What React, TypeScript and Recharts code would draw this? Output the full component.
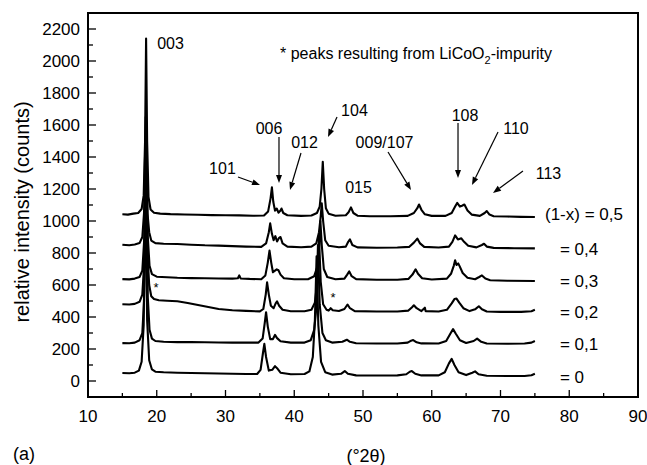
import React from "react";
import {
  LineChart,
  Line,
  XAxis,
  YAxis,
  ReferenceArea,
  ReferenceDot,
  ReferenceLine,
} from "recharts";

// XRD patterns, [2theta, counts]
const trace05: [number, number][] = [
  [15, 1042], [15.8, 1040], [16.6, 1046], [17.3, 1050], [17.8, 1075], [18.1, 1160], [18.3, 1500], [18.45, 2140],
  [18.6, 1500], [18.8, 1150], [19.1, 1072], [19.6, 1052], [20.5, 1046], [22, 1043], [24, 1041], [26, 1039],
  [28, 1037], [30, 1036], [32, 1035], [34, 1033], [35.6, 1034], [36.2, 1060], [36.55, 1140], [36.75, 1210],
  [36.95, 1120], [37.2, 1065], [37.45, 1078], [37.7, 1052], [38.0, 1065], [38.15, 1078], [38.4, 1050], [39, 1036],
  [41, 1032], [42.5, 1034], [43.3, 1050], [43.7, 1090], [43.95, 1200], [44.15, 1370], [44.35, 1200], [44.6, 1080],
  [45.0, 1046], [46, 1033], [47.5, 1036], [47.9, 1055], [48.25, 1085], [48.6, 1050], [49.2, 1033], [51, 1030],
  [54, 1030], [56.5, 1032], [57.4, 1050], [57.9, 1080], [58.15, 1103], [58.5, 1070], [59.0, 1042], [60, 1032],
  [62, 1032], [62.9, 1050], [63.4, 1090], [63.7, 1113], [64.1, 1090], [64.4, 1095], [64.75, 1103], [65.2, 1065],
  [65.8, 1040], [67, 1032], [67.7, 1050], [68.0, 1062], [68.4, 1040], [69, 1030], [71, 1028], [73, 1026], [75, 1025],
];

const trace04: [number, number][] = [
  [15, 852], [16, 848], [16.8, 853], [17.5, 862], [17.9, 900], [18.15, 1050], [18.4, 1650], [18.65, 1050],
  [18.9, 930], [19.2, 878], [19.8, 862], [21, 858], [23, 856], [25, 852], [27, 848], [29, 846], [31, 843],
  [33, 840], [35.2, 838], [35.9, 860], [36.3, 930], [36.5, 985], [36.75, 920], [37.0, 880], [37.25, 905],
  [37.5, 872], [37.8, 895], [38.0, 900], [38.3, 860], [39, 840], [41, 836], [42.5, 840], [43.2, 860],
  [43.6, 930], [43.85, 1030], [44.0, 1110], [44.2, 1000], [44.5, 880], [45, 845], [46.5, 836], [47.5, 840],
  [47.85, 870], [48.1, 885], [48.45, 850], [49.2, 835], [52, 833], [55, 834], [56.7, 838], [57.4, 865],
  [57.9, 890], [58.3, 860], [58.9, 838], [61, 834], [62.5, 840], [63.0, 870], [63.4, 910], [63.8, 885],
  [64.3, 892], [64.7, 870], [65.3, 845], [66.5, 835], [67.3, 850], [67.6, 858], [68.0, 840], [69, 832],
  [72, 830], [75, 829],
];

const trace03: [number, number][] = [
  [15, 637], [16, 635], [16.8, 640], [17.5, 650], [17.9, 690], [18.2, 900], [18.45, 1550], [18.7, 900],
  [18.95, 720], [19.3, 668], [20, 652], [21.5, 648], [23, 645], [25, 643], [27, 642], [29, 641], [31, 640],
  [31.8, 642], [32.0, 660], [32.2, 641], [33.5, 638], [35.2, 636], [35.8, 660], [36.15, 740], [36.4, 815],
  [36.65, 740], [36.9, 680], [37.2, 690], [37.45, 698], [37.7, 692], [38.0, 665], [38.5, 642], [40, 636],
  [42, 636], [42.9, 655], [43.4, 720], [43.65, 860], [43.8, 1000], [44.0, 850], [44.3, 700], [44.8, 650],
  [46, 636], [47.3, 640], [47.7, 665], [48.0, 685], [48.35, 655], [49, 637], [52, 633], [55, 633],
  [56.6, 638], [57.2, 665], [57.65, 698], [58.0, 670], [58.6, 642], [60, 634], [62.2, 640], [62.8, 670],
  [63.2, 720], [63.4, 755], [63.6, 725], [63.85, 735], [64.05, 718], [64.5, 675], [65.2, 645], [66.3, 636],
  [66.9, 650], [67.3, 660], [67.8, 640], [68.5, 630], [71, 627], [75, 625],
];

const trace02: [number, number][] = [
  [15, 480], [16, 478], [16.8, 482], [17.5, 495], [17.9, 540], [18.15, 720], [18.4, 1300], [18.65, 800],
  [18.9, 600], [19.2, 530], [19.6, 512], [20.3, 505], [21.5, 502], [23, 498], [24.5, 488], [26, 475],
  [27.5, 462], [29, 450], [31, 442], [33, 438], [35, 435], [35.5, 450], [35.85, 540], [36.05, 617],
  [36.3, 540], [36.6, 470], [37.0, 455], [37.3, 485], [37.5, 498], [37.8, 470], [38.3, 445], [39.5, 436],
  [41.5, 436], [42.5, 445], [43.0, 490], [43.35, 620], [43.6, 900], [43.85, 620], [44.2, 480], [44.7, 445],
  [45.0, 440], [45.3, 455], [45.6, 442], [46.5, 438], [47.3, 450], [47.75, 478], [48.1, 455], [48.8, 437],
  [52, 434], [55, 434], [56.6, 440], [57.1, 460], [57.4, 473], [57.8, 455], [58.5, 437], [59.0, 458],
  [59.1, 437], [61, 434], [62.2, 445], [62.9, 485], [63.3, 512], [63.6, 515], [64.0, 490], [64.6, 455],
  [65.5, 437], [66.3, 448], [66.85, 467], [67.3, 448], [68, 434], [70, 432], [73, 432], [74.5, 436], [75, 445],
];

const trace01: [number, number][] = [
  [15, 237], [16, 236], [16.8, 240], [17.5, 255], [17.9, 300], [18.15, 500], [18.45, 1400], [18.7, 520],
  [18.95, 320], [19.3, 265], [19.8, 250], [21, 245], [23, 243], [25, 243], [27, 242], [29, 241], [31, 240],
  [33, 240], [34.8, 240], [35.4, 265], [35.7, 360], [35.9, 430], [36.15, 340], [36.5, 262], [36.9, 262],
  [37.2, 288], [37.5, 268], [38, 248], [39.5, 240], [41.5, 240], [42.4, 255], [42.9, 320], [43.2, 450],
  [43.45, 850], [43.7, 480], [44.1, 300], [44.6, 255], [45.5, 240], [47, 245], [47.65, 258], [48.1, 245],
  [49, 236], [52, 234], [55, 234], [56.5, 240], [57.0, 252], [57.3, 256], [57.8, 242], [58.5, 235],
  [61, 234], [62.1, 250], [62.7, 295], [63.1, 324], [63.5, 295], [64.1, 255], [65, 238], [66.1, 250],
  [66.6, 265], [67.2, 245], [68, 234], [71, 233], [73.5, 234], [74.5, 240], [75, 250],
];

const trace00: [number, number][] = [
  [15, 50], [16, 48], [16.8, 52], [17.4, 65], [17.8, 120], [18.1, 350], [18.35, 1250], [18.6, 380],
  [18.9, 130], [19.3, 72], [19.8, 58], [21, 55], [23, 52], [25, 50], [27, 48], [29, 47], [31, 45], [33, 44],
  [34.6, 44], [35.1, 70], [35.45, 175], [35.65, 232], [35.9, 150], [36.3, 65], [36.8, 70], [37.2, 93],
  [37.5, 80], [38, 52], [39.5, 42], [41.5, 44], [42.2, 60], [42.7, 150], [43.0, 380], [43.25, 780],
  [43.5, 350], [43.9, 120], [44.5, 55], [45.5, 40], [46.8, 45], [47.35, 62], [47.8, 45], [49, 35], [52, 34],
  [55, 35], [56.3, 42], [56.8, 58], [57.1, 62], [57.6, 45], [58.5, 35], [61, 35], [61.9, 55], [62.5, 110],
  [62.9, 138], [63.3, 100], [63.9, 55], [65, 37], [65.9, 52], [66.3, 60], [66.8, 42], [68, 33], [71, 31],
  [73.5, 31], [74.5, 36], [75, 45],
];

const traces = [trace05, trace04, trace03, trace02, trace01, trace00];

const xTicks = [10, 15, 20, 25, 30, 35, 40, 45, 50, 55, 60, 65, 70, 75, 80, 85, 90];
const yTicks = [0, 100, 200, 300, 400, 500, 600, 700, 800, 900, 1000, 1100, 1200, 1300, 1400, 1500, 1600, 1700, 1800, 1900, 2000, 2100, 2200];

const traceLabels = ["(1-x) = 0,5", "= 0,4", "= 0,3", "= 0,2", "= 0,1", "= 0"];
const peakLabels = ["003", "101", "006", "012", "104", "009/107", "015", "108", "110", "113"];

// annotation placement (data coords)
const traceLabelPos = [
  [76.47, 1044], [78.65, 825], [78.65, 625], [78.65, 431], [78.65, 231], [78.65, 25],
];
const peakLabelPos = [
  [22.0, 2112], [29.56, 1331], [36.33, 1581], [41.49, 1494], [48.76, 1694],
  [53.13, 1494], [49.35, 1212], [64.84, 1662], [72.25, 1581], [76.98, 1300],
];
const arrows = [
  [31.82, 1275, 35.02, 1225],
  [37.78, 1525, 37.78, 1238],
  [40.98, 1425, 39.38, 1194],
  [46.22, 1650, 44.91, 1525],
  [53.64, 1431, 56.98, 1194],
  [63.82, 1612, 63.82, 1269],
  [69.64, 1556, 65.85, 1225],
  [73.27, 1312, 68.91, 1175],
];
const stars = [[19.89, 587], [45.64, 525]];

const FONT = "'Liberation Sans', Arial, Helvetica, sans-serif";

const XTick = (props: any) => {
  const { x, y, payload } = props;
  const major = payload.value % 10 === 0;
  return (
    <g>
      <line x1={x} x2={x} y1={y} y2={y - (major ? 7 : 4)} stroke="#000" strokeWidth={1.3} />
      {major && (
        <text x={x} y={y + 25} textAnchor="middle" fontSize={17} fontFamily={FONT} fill="#000">
          {payload.value}
        </text>
      )}
    </g>
  );
};

const YTick = (props: any) => {
  const { x, y, payload } = props;
  const major = payload.value % 200 === 0;
  return (
    <g>
      <line x1={x} x2={x + (major ? 8 : 5)} y1={y} y2={y} stroke="#000" strokeWidth={1.3} />
      {major && (
        <text x={x - 8} y={y} dy="0.36em" textAnchor="end" fontSize={17} fontFamily={FONT} fill="#000">
          {payload.value}
        </text>
      )}
    </g>
  );
};

const YLabel = () => (
  <text
    transform="translate(22,212) rotate(-90)"
    dy="0.36em"
    textAnchor="middle"
    fontSize={20}
    fontFamily={FONT}
    fill="#000"
  >
    relative intensity (counts)
  </text>
);

const XLabel = () => (
  <text x={366} y={456} dy="0.36em" textAnchor="middle" fontSize={18} fontFamily={FONT} fill="#000">
    (°2θ)
  </text>
);

const textShape = (label: React.ReactNode, anchor: "start" | "middle", size: number) => (p: any) => (
  <text x={p.cx} y={p.cy} dy="0.36em" textAnchor={anchor} fontSize={size} fontFamily={FONT} fill="#000">
    {label}
  </text>
);

const arrowShape = (p: any) => {
  const { x1, y1, x2, y2 } = p;
  const a = Math.atan2(y2 - y1, x2 - x1);
  const L = 8;
  const W = 3;
  const bx = x2 - L * Math.cos(a);
  const by = y2 - L * Math.sin(a);
  const pts = `${x2},${y2} ${bx + W * Math.sin(a)},${by - W * Math.cos(a)} ${bx - W * Math.sin(a)},${by + W * Math.cos(a)}`;
  return (
    <g>
      <line x1={x1} y1={y1} x2={bx} y2={by} stroke="#000" strokeWidth={1.2} />
      <polygon points={pts} fill="#000" />
    </g>
  );
};

export default function App() {
  return (
    <div style={{ position: "absolute", left: 0, top: 0, width: 647, height: 465, background: "#fff", fontFamily: FONT }}>
      <LineChart width={647} height={465} margin={{ top: 13, right: 9, bottom: 0, left: 0 }}>
        <XAxis
          dataKey="x"
          type="number"
          domain={[10, 90]}
          ticks={xTicks}
          interval={0}
          height={68}
          tickSize={0}
          tickMargin={0}
          axisLine={false}
          tickLine={false}
          tick={XTick}
          label={{ content: XLabel }}
        />
        <YAxis
          type="number"
          domain={[-100, 2300]}
          ticks={yTicks}
          interval={0}
          width={88}
          tickSize={0}
          tickMargin={0}
          axisLine={false}
          tickLine={false}
          tick={YTick}
          label={{ content: YLabel }}
        />
        {traces.map((t, i) => (
          <Line
            key={i}
            data={t.map(([x, y]) => ({ x, y }))}
            dataKey="y"
            type="linear"
            stroke="#000"
            strokeWidth={2.1}
            strokeLinejoin="round"
            dot={false}
            isAnimationActive={false}
          />
        ))}
        {arrows.map((a, i) => (
          <ReferenceLine
            key={"a" + i}
            segment={[{ x: a[0], y: a[1] }, { x: a[2], y: a[3] }]}
            shape={arrowShape}
            ifOverflow="visible"
          />
        ))}
        {peakLabels.map((l, i) => (
          <ReferenceDot
            key={"p" + i}
            x={peakLabelPos[i][0]}
            y={peakLabelPos[i][1]}
            r={0}
            ifOverflow="visible"
            shape={textShape(l, "middle", 16)}
          />
        ))}
        {traceLabels.map((l, i) => (
          <ReferenceDot
            key={"t" + i}
            x={traceLabelPos[i][0]}
            y={traceLabelPos[i][1]}
            r={0}
            ifOverflow="visible"
            shape={textShape(l, "start", 17)}
          />
        ))}
        {stars.map((s, i) => (
          <ReferenceDot key={"s" + i} x={s[0]} y={s[1]} r={0} ifOverflow="visible" shape={textShape("*", "middle", 13)} />
        ))}
        <ReferenceDot
          x={37.93}
          y={2050}
          r={0}
          ifOverflow="visible"
          shape={textShape(
            <>
              * peaks resulting from LiCoO<tspan dy={5} fontSize={11}>2</tspan>
              <tspan dy={-5}>-impurity</tspan>
            </>,
            "start",
            16
          )}
        />
        <ReferenceArea x1={10} x2={90} y1={-100} y2={2300} fill="none" stroke="#000" strokeWidth={2} ifOverflow="visible" />
      </LineChart>
      <div style={{ position: "absolute", left: 13, top: 444, fontSize: 18, color: "#000", lineHeight: "20px" }}>(a)</div>
    </div>
  );
}
